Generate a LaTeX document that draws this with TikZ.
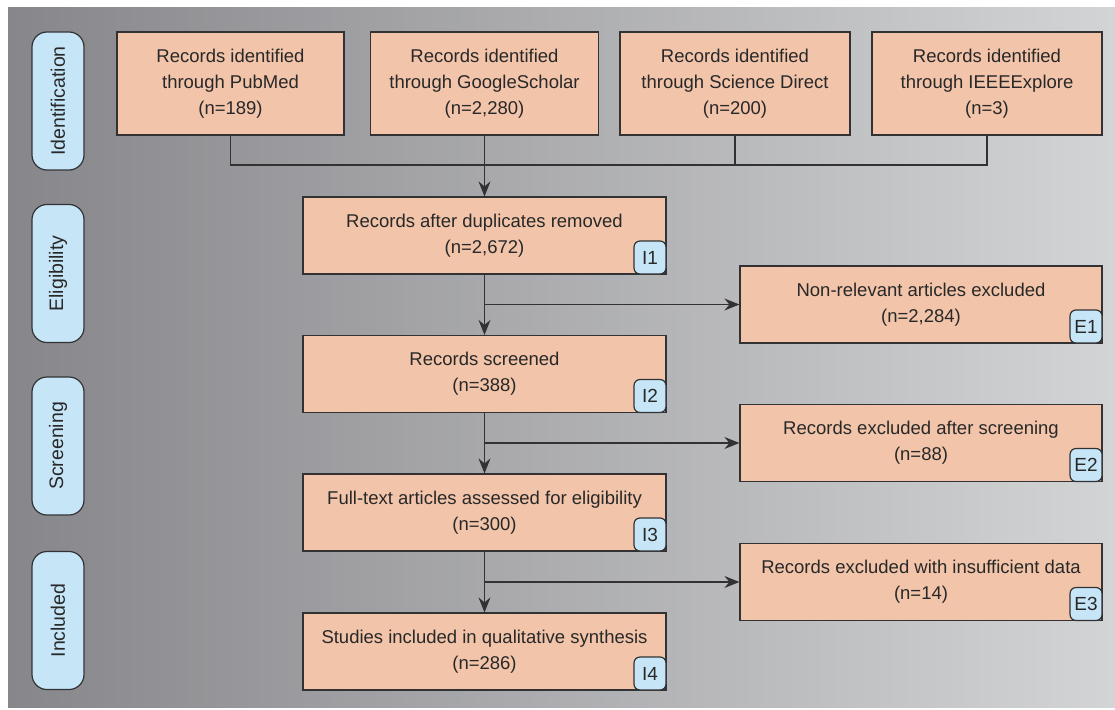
\documentclass[tikz,border=0pt]{standalone}
\usepackage{fontspec}
\setmainfont{Liberation Sans}
\usetikzlibrary{arrows.meta}
\definecolor{boxfill}{RGB}{242,196,170}
\definecolor{tagfill}{RGB}{198,230,248}
\definecolor{edge}{RGB}{50,50,52}
\definecolor{txt}{RGB}{40,40,40}
\definecolor{bgleft}{RGB}{135,135,139}
\definecolor{bgright}{RGB}{211,212,214}
\tikzset{
  box/.style={draw=edge, fill=boxfill, line width=1.2pt, inner sep=0pt, align=center,
    text=txt, font=\fontsize{18.5}{26}\selectfont},
  pill/.style={draw=edge, fill=tagfill, line width=1.2pt, rounded corners=15pt, inner sep=0pt,
    rotate=90, minimum width=138pt, minimum height=52pt, text=txt, font=\fontsize{19.5}{22}\selectfont},
  tag/.style={draw=edge, fill=tagfill, line width=1.2pt, rounded corners=6pt, inner sep=0pt,
    minimum width=32pt, minimum height=33pt, anchor=south east, text=txt, font=\fontsize{19}{22}\selectfont},
  conn/.style={draw=edge, line width=1.2pt},
  arr/.style={conn, -{Stealth[length=15pt, width=12pt, inset=5pt]}}
}
\begin{document}
\begin{tikzpicture}[x=1pt, y=-1pt]
\useasboundingbox (0,0) rectangle (1115,709);
\shade[left color=bgleft, right color=bgright] (8,8) rectangle (1115,707);

% stage pills
\node[pill] (sid) at (58,101) {Identification};
\node[pill] (sel) at (58,273.5) {Eligibility};
\node[pill] (ssc) at (58,446) {Screening};
\node[pill] (sin) at (58,620.5) {Included};

% top boxes
\node[box, minimum width=227pt, minimum height=103pt] (pm) at (230.5,83.5) {Records identified\\through PubMed\\(n=189)};
\node[box, minimum width=228pt, minimum height=103pt] (gs) at (484.5,83.5) {Records identified\\through GoogleScholar\\(n=2,280)};
\node[box, minimum width=230pt, minimum height=103pt] (sd) at (735,83.5) {Records identified\\through Science Direct\\(n=200)};
\node[box, minimum width=230pt, minimum height=103pt] (ie) at (987,83.5) {Records identified\\through IEEEExplore\\(n=3)};

% included column
\node[box, minimum width=363pt, minimum height=77pt] (i1) at (484.5,235.5) {Records after duplicates removed\\(n=2,672)};
\node[box, minimum width=363pt, minimum height=77pt] (i2) at (484.5,374) {Records screened\\(n=388)};
\node[box, minimum width=363pt, minimum height=77pt] (i3) at (484.5,512.5) {Full-text articles assessed for eligibility\\(n=300)};
\node[box, minimum width=363pt, minimum height=77pt] (i4) at (484.5,651.5) {Studies included in qualitative synthesis\\(n=286)};

% excluded column
\node[box, minimum width=362pt, minimum height=77pt] (e1) at (921,304.5) {Non-relevant articles excluded\\(n=2,284)};
\node[box, minimum width=362pt, minimum height=77pt] (e2) at (921,443) {Records excluded after screening\\(n=88)};
\node[box, minimum width=362pt, minimum height=77pt] (e3) at (921,582) {Records excluded with insufficient data\\(n=14)};

% tags
\node[tag] (t1) at (i1.south east) {I1};
\node[tag] (t2) at (i2.south east) {I2};
\node[tag] (t3) at (i3.south east) {I3};
\node[tag] (t4) at (i4.south east) {I4};
\node[tag] (u1) at (e1.south east) {E1};
\node[tag] (u2) at (e2.south east) {E2};
\node[tag] (u3) at (e3.south east) {E3};

% connectors
\coordinate (bar) at (0,165);
\draw[conn] (pm.south) -- (pm.south |- bar) -- (ie.south |- bar) -- (ie.south);
\draw[conn] (sd.south) -- (sd.south |- bar);
\draw[arr] (gs.south) -- (i1.north);
\draw[arr] (i1.south) -- (i2.north);
\draw[arr] (i2.south) -- (i3.north);
\draw[arr] (i3.south) -- (i4.north);
\draw[arr] (i1.south |- e1.west) -- (e1.west);
\draw[arr] (i2.south |- e2.west) -- (e2.west);
\draw[arr] (i3.south |- e3.west) -- (e3.west);
\end{tikzpicture}
\end{document}
